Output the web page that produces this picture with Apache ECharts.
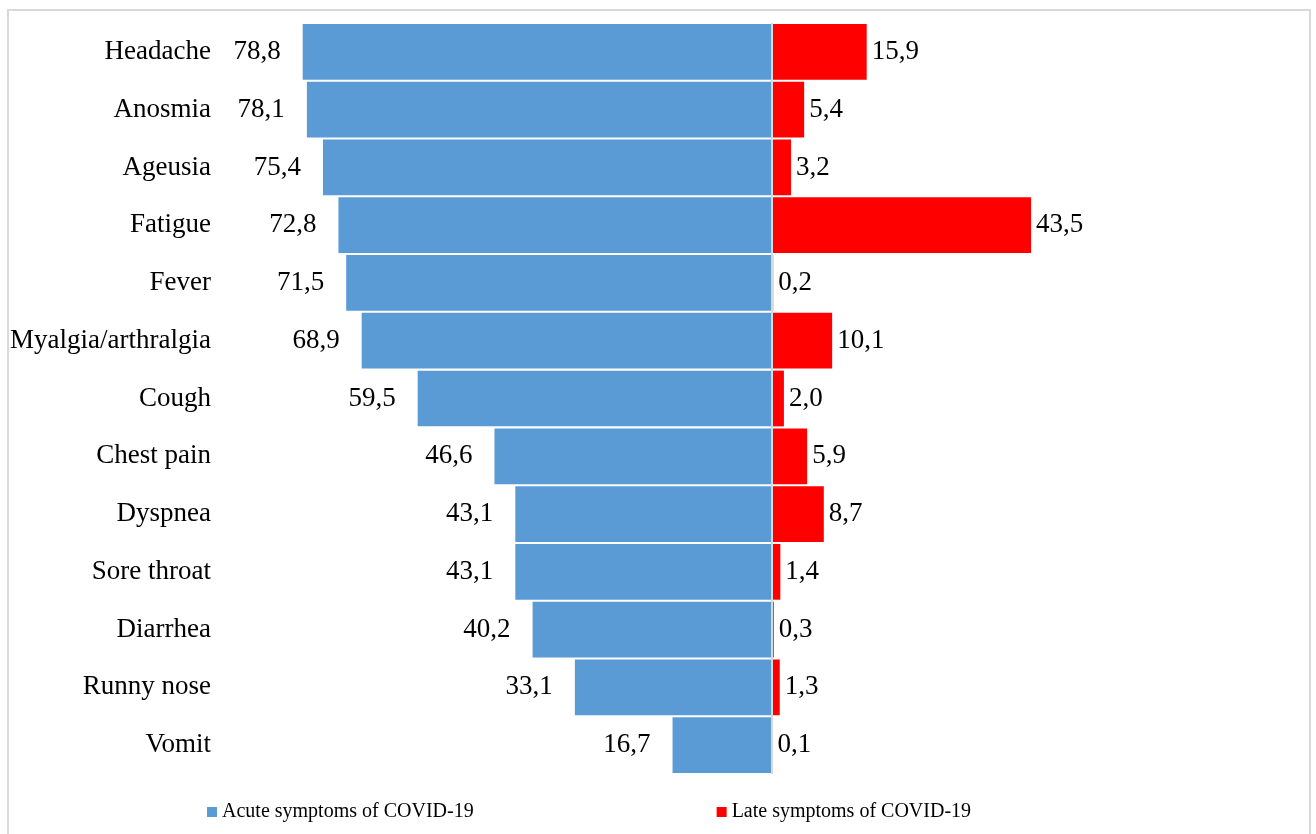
<!DOCTYPE html>
<html>
<head>
<meta charset="utf-8">
<title>Acute and late symptoms of COVID-19</title>
<script src="https://cdn.jsdelivr.net/npm/echarts@6/dist/echarts.min.js"></script>
<style>
  html, body { margin: 0; padding: 0; background: #ffffff; }
  #chart { width: 1316px; height: 834px; }
</style>
</head>
<body>
<div id="chart"></div>
<script>
// Symptoms, listed top to bottom
const categories = [
  'Headache', 'Anosmia', 'Ageusia', 'Fatigue', 'Fever', 'Myalgia/arthralgia',
  'Cough', 'Chest pain', 'Dyspnea', 'Sore throat', 'Diarrhea', 'Runny nose', 'Vomit'
];
// Share of patients (%) per symptom
const acuteValues = [78.8, 78.1, 75.4, 72.8, 71.5, 68.9, 59.5, 46.6, 43.1, 43.1, 40.2, 33.1, 16.7];
const lateValues  = [15.9, 5.4, 3.2, 43.5, 0.2, 10.1, 2.0, 5.9, 8.7, 1.4, 0.3, 1.3, 0.1];
const seriesNames = ['Acute symptoms of COVID-19', 'Late symptoms of COVID-19'];

const FONT = "'Liberation Serif', 'Times New Roman', serif";
const fmt = p => Math.abs(p.value).toFixed(1).replace('.', ',');

const chart = echarts.init(document.getElementById('chart'), null, { renderer: 'canvas' });

chart.setOption({
  animation: false,
  backgroundColor: '#ffffff',
  textStyle: { fontFamily: FONT, color: '#000' },
  graphic: [{
    type: 'rect',
    silent: true,
    z: -10,
    shape: { x: 8, y: 10, width: 1302, height: 840 },
    style: { fill: 'none', stroke: '#d9d9d9', lineWidth: 2 }
  }],
  grid: { left: 236, right: 8, top: 23, bottom: 60, containLabel: false },
  legend: {
    left: 202,
    top: 797,
    itemWidth: 10,
    itemHeight: 10,
    itemGap: 243,
    icon: 'rect',
    textStyle: { fontFamily: FONT, fontSize: 20, color: '#000' },
    data: seriesNames
  },
  xAxis: {
    type: 'value',
    min: -90,
    max: 90,
    show: false,
    splitLine: { show: false }
  },
  yAxis: {
    type: 'category',
    data: categories,
    inverse: true,
    axisLine: { show: false, onZero: false },
    axisTick: { show: false },
    axisLabel: { fontFamily: FONT, fontSize: 27, color: '#000', margin: 25 }
  },
  series: [
    {
      name: seriesNames[0],
      type: 'bar',
      data: acuteValues.map(v => -v),
      barCategoryGap: '3.5%',
      barGap: '-100%',
      itemStyle: { color: '#5b9bd5' },
      label: {
        show: true,
        position: 'left',
        distance: 22,
        formatter: fmt,
        fontFamily: FONT,
        fontSize: 27,
        color: '#000'
      }
    },
    {
      name: seriesNames[1],
      type: 'bar',
      data: lateValues,
      barCategoryGap: '3.5%',
      barGap: '-100%',
      itemStyle: { color: '#ff0000' },
      label: {
        show: true,
        position: 'right',
        distance: 5,
        formatter: fmt,
        fontFamily: FONT,
        fontSize: 27,
        color: '#000'
      },
      markLine: {
        silent: true,
        symbol: 'none',
        label: { show: false },
        lineStyle: { color: '#d9d9d9', width: 2, type: 'solid' },
        data: [{ xAxis: 0 }]
      }
    }
  ]
});
</script>
</body>
</html>
